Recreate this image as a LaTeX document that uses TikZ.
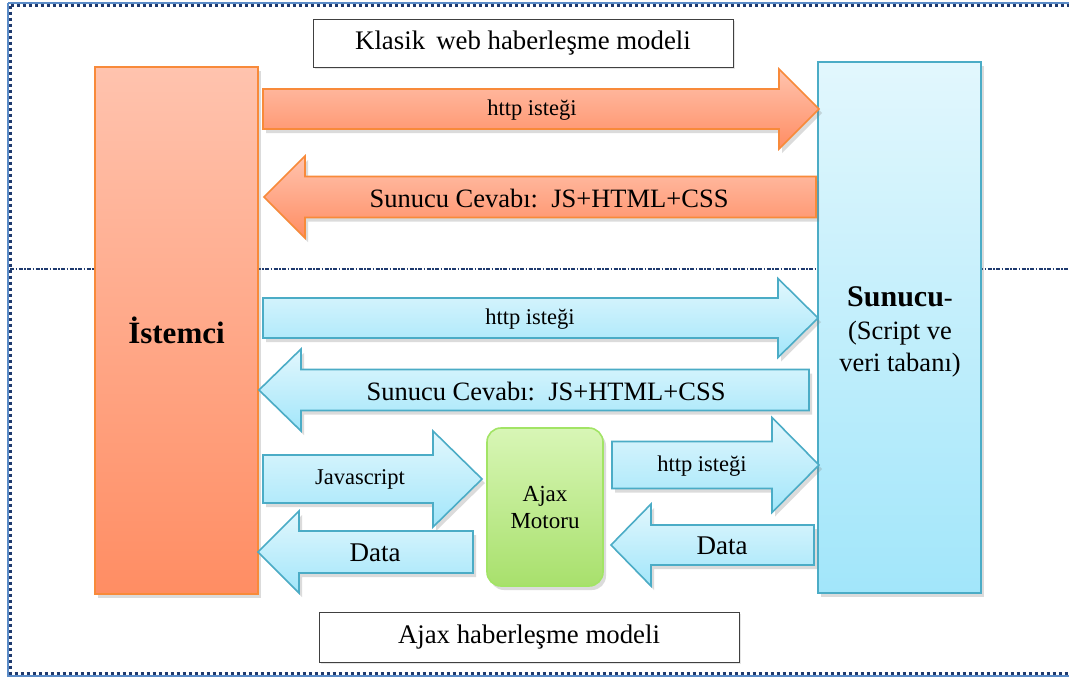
\documentclass[tikz,border=0pt]{standalone}
\usepackage{fontspec}
\setmainfont{Liberation Serif}
\usetikzlibrary{shadows}
\definecolor{orB}{HTML}{F88A3A}
\definecolor{orT}{HTML}{FFC3AE}
\definecolor{orM}{HTML}{FF8D63}
\definecolor{blB}{HTML}{4BACC6}
\definecolor{blT}{HTML}{E2F7FD}
\definecolor{blM}{HTML}{A2E6FA}
\definecolor{grB}{HTML}{A2E465}
\definecolor{grT}{HTML}{D8F6B6}
\definecolor{grM}{HTML}{A8E06C}
\definecolor{navy}{HTML}{1F3A6E}
\definecolor{frameblue}{HTML}{5B8CC8}
\tikzset{
  shad/.style={drop shadow={opacity=0.28,shadow xshift=3pt,shadow yshift=-4pt}},
  orangearrow/.style={draw=orB,line width=1.6pt,top color=orT,bottom color=orM,shad,line join=miter},
  bluearrow/.style={draw=blB,line width=1.6pt,top color=blT,bottom color=blM,shad,line join=miter},
  lbl/.style={inner sep=0pt,font=\fontsize{22.5}{27}\selectfont},
  lblbig/.style={inner sep=0pt,font=\fontsize{26.5}{31}\selectfont},
  lbldata/.style={inner sep=0pt,font=\fontsize{27}{31}\selectfont},
  titlebox/.style={draw=black!75,line width=1pt,fill=white,inner sep=0pt,font=\fontsize{26.8}{30}\selectfont,
     drop shadow={opacity=0.2,shadow xshift=2pt,shadow yshift=-2pt}},
}
\newcommand{\rarrow}[8]{% style, x0, xh, xt, yc, shaft half, head half, name
  \path[#1] (#2,#5-#6) -- (#3,#5-#6) -- (#3,#5-#7) -- (#4,#5) -- (#3,#5+#7) -- (#3,#5+#6) -- (#2,#5+#6) -- cycle;
  \coordinate (#8) at ({(#2+#3)/2},#5);}
\newcommand{\larrow}[8]{% style, x1, xh, xt, yc, shaft half, head half, name
  \path[#1] (#2,#5-#6) -- (#3,#5-#6) -- (#3,#5-#7) -- (#4,#5) -- (#3,#5+#7) -- (#3,#5+#6) -- (#2,#5+#6) -- cycle;
  \coordinate (#8) at ({(#2+#3)/2},#5);}
\begin{document}
\begin{tikzpicture}[x=1pt,y=-1pt]
\useasboundingbox (0,0) rectangle (1069,678);
\fill[white] (0,0) rectangle (1069,678);
% outer frame
\draw[frameblue,line width=1.5pt] (8,3) -- (1080,3);
\draw[frameblue,line width=1.5pt] (8,3) -- (8,676) -- (1080,676);
\draw[navy,line width=3.2pt,dash pattern=on 3pt off 3pt] (10.5,5.5) -- (1080,5.5);
\draw[navy,line width=3.2pt,dash pattern=on 3pt off 3pt] (10.5,5.5) -- (10.5,673.5) -- (1080,673.5);
% divider
\draw[navy,line width=2.6pt,dash pattern=on 4pt off 1.5pt on 1.5pt off 1.5pt] (10,269) -- (1069,269);
% titles
\node[titlebox,minimum width=420pt,minimum height=48pt] (t1) at (523,43) {Klasik\, web haberleşme modeli};
\node[titlebox,minimum width=420pt,minimum height=50pt] (t2) at (529,637) {Ajax haberleşme modeli};
% client and server
\node[draw=orB,line width=1.6pt,top color=orT,bottom color=orM,shad,minimum width=163pt,minimum height=527pt,inner sep=0pt,font=\bfseries\fontsize{31}{35}\selectfont] (ist) at (176.5,330.5) {İstemci};
\node[draw=blB,line width=1.6pt,top color=blT,bottom color=blM,shad,minimum width=163pt,minimum height=531pt,inner sep=0pt] (sun) at (899.5,327.5) {};
\node[align=center,inner sep=0pt,font=\fontsize{26.5}{32.5}\selectfont] (suntxt) at (900,332) {{\bfseries\fontsize{30}{32.5}\selectfont Sunucu}-\\(Script ve\\veri tabanı)};
% ajax engine
\node[draw=grB,line width=1.6pt,top color=grT,bottom color=grM,rounded corners=14pt,shad,minimum width=116pt,minimum height=158pt,inner sep=0pt,align=center,font=\fontsize{23}{27}\selectfont] (ajax) at (545,507) {Ajax\\Motoru};
% arrows
\rarrow{orangearrow}{263}{779}{819}{109}{20}{40}{a1}
\larrow{orangearrow}{816}{305}{264}{197}{20.5}{41}{a2}
\rarrow{bluearrow}{263}{778}{818}{318}{20}{39.5}{a3}
\larrow{bluearrow}{809}{301}{259}{390}{20.5}{41}{a4}
\rarrow{bluearrow}{263}{433}{482}{479}{24}{48}{a5}
\larrow{bluearrow}{473}{299}{258}{552}{21}{41}{a6}
\rarrow{bluearrow}{612}{772}{819}{465}{23.5}{47.5}{a7}
\larrow{bluearrow}{814}{651}{611}{545}{20}{41}{a8}
\node[lbl] at (532,110) {http isteği};
\node[lblbig] at (549,198) {Sunucu Cevabı:\ \ JS+HTML+CSS};
\node[lbl] at (530,319) {http isteği};
\node[lblbig] at (546,391) {Sunucu Cevabı:\ \ JS+HTML+CSS};
\node[lbl] at (360,479) {Javascript};
\node[lbldata] at (375,553) {Data};
\node[lbl] at (702,466) {http isteği};
\node[lbldata] at (722,546) {Data};
\end{tikzpicture}
\end{document}
